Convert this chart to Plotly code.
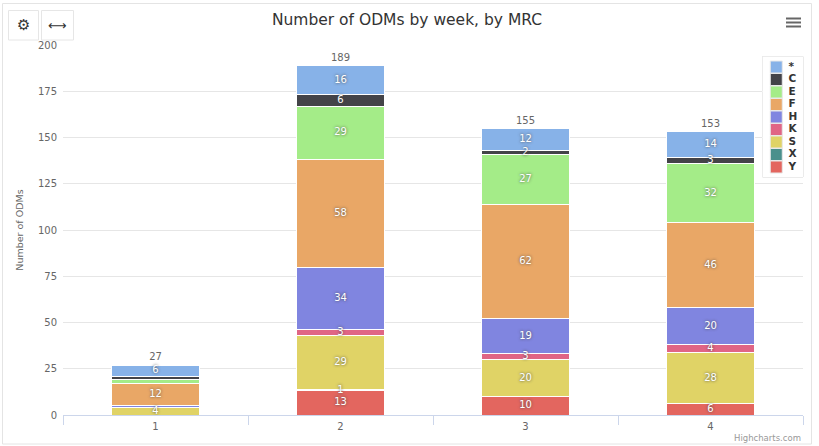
import plotly.graph_objects as go

weeks = ["1", "2", "3", "4"]

# bottom of the stack first, legend runs the other way
series = ["Y", "X", "S", "K", "H", "F", "E", "C", "*"]
colors = ["#e3665f", "#4a908c", "#e0d366", "#e06585", "#8085e0", "#e9a766", "#a4ec88", "#434348", "#87b2e8"]
y_vals = [None, 13, 10, 6]
x_vals = [None, 1, None, None]
s_vals = [4, 29, 20, 28]
k_vals = [None, 3, 3, 4]
h_vals = [1, 34, 19, 20]
f_vals = [12, 58, 62, 46]
e_vals = [2, 29, 27, 32]
c_vals = [2, 6, 2, 3]
star_vals = [6, 16, 12, 14]
values = [y_vals, x_vals, s_vals, k_vals, h_vals, f_vals, e_vals, c_vals, star_vals]
totals = [27, 189, 155, 153]
y_ticks = [0, 25, 50, 75, 100, 125, 150, 175, 200]
# the original drops these labels in week 1, the slices are too thin
hidden_week1 = ["H", "E", "C"]

FONT = "DejaVu Sans"
W, H = 819, 446
L, R, T, B = 63, 803, 45, 415


def px(x):
    return (x - L) / (R - L)


def py(y):
    return (B - y) / (B - T)


fig = go.Figure()
label_x, label_y, label_text = [], [], []
running = [0] * len(weeks)
for name, color, vals in zip(series, colors, values):
    fig.add_trace(
        go.Bar(
            x=weeks,
            y=vals,
            name=name,
            marker=dict(color=color, line=dict(color="white", width=1)),
            showlegend=False,
        )
    )
    for i, v in enumerate(vals):
        if not v:
            continue
        if not (i == 0 and name in hidden_week1):
            label_x.append(weeks[i])
            label_y.append(running[i] + v / 2)
            label_text.append(str(v))
        running[i] += v

# separate text trace: bar text gets painted over by the next slice up
fig.add_trace(
    go.Scatter(
        x=label_x,
        y=label_y,
        mode="text",
        text=label_text,
        textposition="middle center",
        textfont=dict(family=FONT, size=10, color="white", shadow="0px 0px 3px #444"),
        showlegend=False,
    )
)

fig.add_trace(
    go.Scatter(
        x=weeks,
        y=totals,
        mode="markers+text",
        marker=dict(size=2, opacity=0),
        text=[str(t) for t in totals],
        textposition="top center",
        textfont=dict(family=FONT, size=10, color="#666666"),
        showlegend=False,
    )
)

# compact legend, plotly's own has a 19px minimum row height
fig.add_trace(
    go.Scatter(
        x=[0] * len(series),
        y=series,
        xaxis="x2",
        yaxis="y2",
        mode="markers+text",
        marker=dict(symbol="square", size=12, color=colors, line=dict(color="#e8e8e8", width=1)),
        text=[" " + s for s in series],
        textposition="middle right",
        textfont=dict(family=FONT, size=10.5, color="#333333", weight="bold"),
        showlegend=False,
        hoverinfo="skip",
    )
)


def paper_rect(x0, x1, y0, y1, **kw):
    return dict(type="rect", xref="paper", yref="paper", x0=px(x0), x1=px(x1), y0=py(y0), y1=py(y1), **kw)


shapes = [
    paper_rect(2.5, 811.5, 444, 3.5, line=dict(color="#e4e4e4", width=1), layer="below"),  # card
    # legend box, tied to the legend axes so it hides the gridlines behind it
    dict(type="rect", xref="x2 domain", yref="y2 domain", x0=0, x1=1, y0=0, y1=1, fillcolor="white",
         line=dict(color="#d8d8d8", width=1), layer="below"),
    paper_rect(8.5, 38.5, 40, 10.5, line=dict(color="#e6e6e6", width=1), fillcolor="white", layer="above"),
    paper_rect(41.5, 73.5, 40, 10.5, line=dict(color="#e6e6e6", width=1), fillcolor="white", layer="above"),
]
for y0 in (17.5, 21.5, 25.5):
    shapes.append(paper_rect(786, 801, y0 + 2, y0, fillcolor="#666666", line=dict(width=0)))

annotations = [
    dict(x=px(23.5), y=py(25), xref="paper", yref="paper", text="⚙", showarrow=False, xanchor="center",
         yanchor="middle", font=dict(family=FONT, size=15, color="#333333")),
    dict(x=px(57.5), y=py(25), xref="paper", yref="paper", text="⟷", showarrow=False, xanchor="center",
         yanchor="middle", font=dict(family=FONT, size=13, color="#333333")),
    dict(x=px(803), y=py(438), xref="paper", yref="paper", text="Highcharts.com", showarrow=False,
         xanchor="right", yanchor="middle", font=dict(family=FONT, size=8.5, color="#999999")),
]

fig.update_layout(
    width=W,
    height=H,
    autosize=False,
    barmode="stack",
    bargap=0.52,
    paper_bgcolor="white",
    plot_bgcolor="white",
    margin=dict(l=L, r=W - R, t=T, b=H - B, pad=0),
    title=dict(text="Number of ODMs by week, by MRC", x=407 / W, xanchor="center", y=1 - 20 / H, yanchor="middle",
               font=dict(family=FONT, size=15.5, color="#333333")),
    font=dict(family=FONT, color="#666666", size=10),
    xaxis=dict(
        type="category",
        domain=[0, 1],
        showgrid=False,
        showline=True,
        linecolor="#ccd6eb",
        linewidth=1,
        ticks="outside",
        tickson="boundaries",
        ticklen=9,
        tickcolor="#ccd6eb",
        ticklabelstandoff=2,
        tickfont=dict(size=10, color="#666666"),
        zeroline=False,
    ),
    yaxis=dict(
        range=[0, 200],
        tickvals=y_ticks,
        gridcolor="#e6e6e6",
        gridwidth=1,
        zeroline=False,
        showline=False,
        ticks="",
        ticklabelstandoff=5,
        tickfont=dict(size=10, color="#666666"),
        title=dict(text="Number of ODMs", font=dict(size=9.5, color="#666666"), standoff=12),
    ),
    xaxis2=dict(domain=[px(762.5), px(803)], anchor="y2", range=[-0.68, 1.32], visible=False, fixedrange=True),
    yaxis2=dict(
        domain=[py(177), py(56.5)],
        anchor="x2",
        type="category",
        categoryorder="array",
        categoryarray=series,
        range=[-0.8, 8.84],
        visible=False,
        fixedrange=True,
    ),
    shapes=shapes,
    annotations=annotations,
    hovermode=False,
)

fig.write_html("out.html", config=dict(displayModeBar=False), post_script="document.body.style.margin='0';")
